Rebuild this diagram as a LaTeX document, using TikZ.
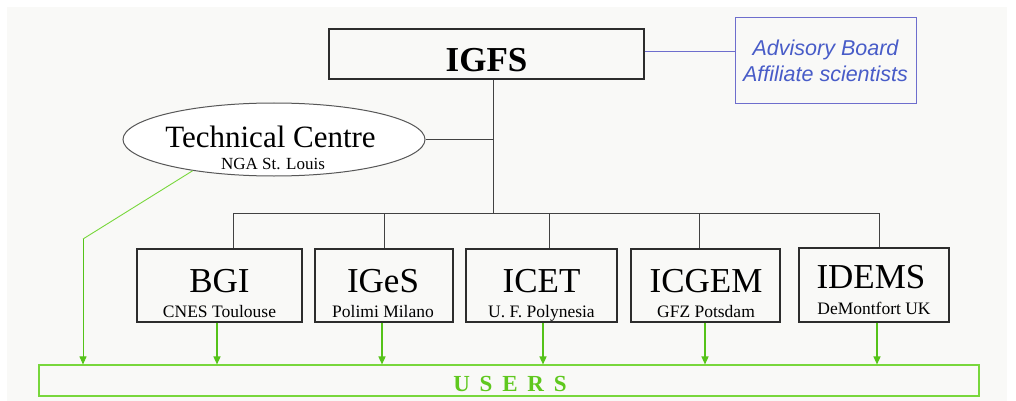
\documentclass[tikz,border=0pt]{standalone}
\usepackage{fontspec}
\setmainfont{Liberation Serif}
\newfontfamily\arialf{Liberation Sans}
\usetikzlibrary{shapes.geometric,arrows.meta}
\definecolor{bgc}{RGB}{249,249,247}
\definecolor{boxc}{RGB}{45,45,45}
\definecolor{advc}{RGB}{72,92,200}
\definecolor{advb}{RGB}{110,110,205}
\definecolor{gline}{RGB}{120,215,60}
\definecolor{garr}{RGB}{85,195,25}
\definecolor{gtext}{RGB}{95,200,30}
\tikzset{
  orgbox/.style={draw=boxc, line width=1.1pt, rectangle, inner sep=0pt},
  conn/.style={draw=boxc!90, line width=1pt},
  mainlbl/.style={anchor=base, font=\fontsize{35}{40}\selectfont, inner sep=0pt},
  sublbl/.style={anchor=base, font=\fontsize{17.5}{20}\selectfont, inner sep=0pt},
  garrow/.style={draw=garr, line width=1.4pt, -{Triangle[length=8pt,width=7pt]}},
  gthin/.style={draw=gline, line width=0.9pt},
}
\begin{document}
\begin{tikzpicture}[x=1pt,y=-1pt]
\useasboundingbox (0,0) rectangle (1016,401);
\fill[white] (0,0) rectangle (1016,401);
\fill[bgc] (7,7) rectangle (1007,401);

% top
\node[orgbox, minimum width=315pt, minimum height=50pt] (igfs) at (486.5,54) {};
\node[anchor=base, inner sep=0pt, font=\fontsize{35}{40}\selectfont\bfseries] (igfst) at (486.5,72) {IGFS};
\node[draw=advb, line width=1pt, rectangle, inner sep=0pt, minimum width=181pt, minimum height=86pt] (adv) at (825.5,61) {};
\node[anchor=base, inner sep=0pt, text=advc, font=\arialf\itshape\fontsize{21.5}{26}\selectfont] (advt1) at (825.5,56) {Advisory Board};
\node[anchor=base, inner sep=0pt, text=advc, font=\arialf\itshape\fontsize{21.5}{26}\selectfont] (advt2) at (825.5,82) {Affiliate scientists};

% technical centre
\node[draw=boxc!80, fill=white, line width=1pt, ellipse, inner sep=0pt, minimum width=302pt, minimum height=73pt] (tc) at (274,139.5) {};
\node[anchor=base, inner sep=0pt, font=\fontsize{31}{36}\selectfont] (tct) at (270.5,147) {Technical Centre};
\node[sublbl, font=\fontsize{17}{20}\selectfont] (tcs) at (273,169) {NGA St. Louis};

% centres
\node[orgbox, minimum width=165pt, minimum height=73pt] (bgi) at (219.5,285.5) {};
\node[mainlbl] (bgit) at (219.5,292) {BGI};
\node[sublbl] (bgis) at (219.5,317) {CNES Toulouse};

\node[orgbox, minimum width=138pt, minimum height=73pt] (iges) at (384,285.5) {};
\node[mainlbl] (igest) at (383,292) {IGeS};
\node[sublbl] (igess) at (383,317) {Polimi Milano};

\node[orgbox, minimum width=151pt, minimum height=73pt] (icet) at (541.5,285.5) {};
\node[mainlbl] (icett) at (541.5,292) {ICET};
\node[sublbl] (icets) at (541.5,317) {U. F. Polynesia};

\node[orgbox, minimum width=149pt, minimum height=73pt] (icgem) at (705.5,285.5) {};
\node[mainlbl] (icgemt) at (706,292) {ICGEM};
\node[sublbl] (icgems) at (706,317) {GFZ Potsdam};

\node[orgbox, minimum width=150pt, minimum height=74pt] (idems) at (874,285) {};
\node[mainlbl] (idemst) at (871,288) {IDEMS};
\node[sublbl] (idemss) at (874,314) {DeMontfort UK};

% users
\node[draw=gline, line width=1.1pt, rectangle, inner sep=0pt, minimum width=940pt, minimum height=31pt] (users) at (509,380.5) {};
\node[anchor=base, inner sep=0pt, text=gtext, font=\fontsize{23}{26}\selectfont\bfseries] (userst) at (510,391) {\spaceskip=9.8pt U S E R S};

% black connectors
\coordinate (tr) at (493,213);
\coordinate (j1) at (233,213);
\coordinate (j2) at (384,213);
\coordinate (j3) at (549,213);
\coordinate (j4) at (699,213);
\coordinate (j5) at (879,213);
\draw[conn] (tr |- igfs.south) -- (tr);
\draw[conn] (j1) -- (j5);
\draw[conn] (j1) -- (j1 |- bgi.north);
\draw[conn] (j2) -- (j2 |- iges.north);
\draw[conn] (j3) -- (j3 |- icet.north);
\draw[conn] (j4) -- (j4 |- icgem.north);
\draw[conn] (j5) -- (j5 |- idems.north);
\draw[conn] (tc.east) -- (tc.east -| tr);
\draw[draw=advb, line width=1pt] ([yshift=2pt]igfs.east) -- ([yshift=2pt]igfs.east -| adv.west);

% green connectors
\coordinate (bend) at (83,239);
\draw[gthin] (tc.201.4) -- (bend);
\draw[gthin, -{Triangle[length=8pt,width=7pt]}, garr] (bend) -- (bend |- users.north);
\draw[garrow] ([xshift=-2.5pt]bgi.south) -- ([xshift=-2.5pt]bgi.south |- users.north);
\draw[garrow] ([xshift=-2pt]iges.south) -- ([xshift=-2pt]iges.south |- users.north);
\draw[garrow] ([xshift=1.5pt]icet.south) -- ([xshift=1.5pt]icet.south |- users.north);
\draw[garrow] ([xshift=-0.5pt]icgem.south) -- ([xshift=-0.5pt]icgem.south |- users.north);
\draw[garrow] ([xshift=3pt]idems.south) -- ([xshift=3pt]idems.south |- users.north);
\end{tikzpicture}
\end{document}
